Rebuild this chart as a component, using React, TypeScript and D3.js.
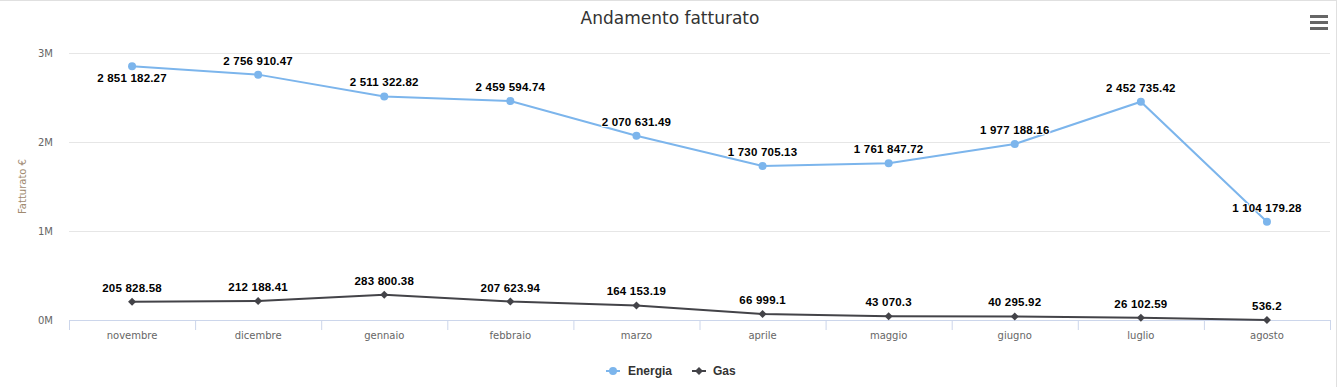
import React from 'react';
import * as d3 from 'd3';

const months = ['novembre', 'dicembre', 'gennaio', 'febbraio', 'marzo', 'aprile', 'maggio', 'giugno', 'luglio', 'agosto'];
const energia = [2851182.27, 2756910.47, 2511322.82, 2459594.74, 2070631.49, 1730705.13, 1761847.72, 1977188.16, 2452735.42, 1104179.28];
const gas = [205828.58, 212188.41, 283800.38, 207623.94, 164153.19, 66999.1, 43070.3, 40295.92, 26102.59, 536.2];
const yTicks = [0, 1000000, 2000000, 3000000];

const W = 1342;
const H = 387;
const margin = { top: 53, right: 12, bottom: 67, left: 69 };

const fmt = (v: number) => {
  const [i, d] = String(v).split('.');
  const int = i.replace(/\B(?=(\d{3})+(?!\d))/g, ' ');
  return d ? `${int}.${d}` : int;
};

const App = () => {
  const x = d3.scaleBand().domain(months).range([margin.left, W - margin.right]);
  const y = d3.scaleLinear().domain([0, 3000000]).range([H - margin.bottom, margin.top]);
  const cx = (m: string) => (x(m) as number) + x.bandwidth() / 2;
  const line = d3.line<number>().x((_, i) => cx(months[i])).y(d => y(d));

  const series = [
    { name: 'Energia', data: energia, color: '#7cb5ec', marker: 'circle' },
    { name: 'Gas', data: gas, color: '#434348', marker: 'diamond' },
  ];

  const marker = (kind: string, px: number, py: number, color: string) =>
    kind === 'circle'
      ? <circle cx={px} cy={py} r={4} fill={color} />
      : <path d={`M${px},${py - 4}L${px + 4},${py}L${px},${py + 4}L${px - 4},${py}Z`} fill={color} />;

  const labelFont = { fontFamily: '"Liberation Sans", Arial, sans-serif', fontWeight: 'bold', fontSize: 11.5, letterSpacing: 0.2 };

  return (
    <svg width={W} height={H} style={{ position: 'absolute', left: 0, top: 0, background: '#fff' }}>
      <line x1={0} x2={1336} y1={0.5} y2={0.5} stroke="#e0e0e0" />
      <line x1={1336.5} x2={1336.5} y1={0} y2={H} stroke="#e0e0e0" />
      <text x={670} y={24} textAnchor="middle" fontFamily='"DejaVu Sans", sans-serif' fontSize={17} fill="#333">
        Andamento fatturato
      </text>
      {/* menu */}
      {[16.5, 22.5, 28.5].map(yy => (
        <line key={yy} x1={1310} x2={1328} y1={yy} y2={yy} stroke="#666" strokeWidth={3} />
      ))}

      {yTicks.slice(1).map(t => (
        <line key={t} x1={margin.left} x2={W - margin.right} y1={y(t) + 0.5} y2={y(t) + 0.5} stroke="#e6e6e6" />
      ))}
      {yTicks.map(t => (
        <text key={t} x={53} y={y(t) + 4} textAnchor="end" fontFamily='"DejaVu Sans", sans-serif' fontSize={10} fill="#666">
          {t / 1000000}M
        </text>
      ))}
      <text transform={`translate(26,${(margin.top + H - margin.bottom) / 2}) rotate(-90)`} textAnchor="middle"
        fontFamily='"DejaVu Sans", sans-serif' fontSize={10} fill="#a08a70">
        Fatturato €
      </text>

      <line x1={margin.left} x2={W - margin.right} y1={y(0) + 0.5} y2={y(0) + 0.5} stroke="#ccd6eb" />
      {months.map(m => (
        <line key={m} x1={(x(m) as number) + 0.5} x2={(x(m) as number) + 0.5} y1={y(0)} y2={y(0) + 10} stroke="#ccd6eb" />
      ))}
      <line x1={W - margin.right + 0.5} x2={W - margin.right + 0.5} y1={y(0)} y2={y(0) + 10} stroke="#ccd6eb" />
      {months.map(m => (
        <text key={m} x={cx(m)} y={339} textAnchor="middle" fontFamily='"DejaVu Sans", sans-serif' fontSize={10} fill="#666">
          {m}
        </text>
      ))}

      {series.map(s => (
        <g key={s.name}>
          <path d={line(s.data) as string} fill="none" stroke={s.color} strokeWidth={2} />
          {s.data.map((v, i) => <g key={i}>{marker(s.marker, cx(months[i]), y(v), s.color)}</g>)}
        </g>
      ))}
      {series.map(s => (
        <g key={s.name + 'l'}>
          {s.data.map((v, i) => {
            const py = y(v);
            const below = py - 20 < margin.top;
            return (
              <text key={i} x={cx(months[i])} y={below ? py + 16 : py - 10} textAnchor="middle" {...labelFont}
                fill="#000" stroke="#fff" strokeWidth={2} strokeLinejoin="round" style={{ paintOrder: 'stroke' }}>
                {fmt(v)}
              </text>
            );
          })}
        </g>
      ))}

      {/* legend */}
      <g>
        <line x1={606} x2={620} y1={371} y2={371} stroke="#7cb5ec" strokeWidth={2} />
        {marker('circle', 613, 371, '#7cb5ec')}
        <text x={628} y={375} fontFamily='"Liberation Sans", Arial, sans-serif' fontWeight="bold" fontSize={12} fill="#333">Energia</text>
        <line x1={692} x2={706} y1={371} y2={371} stroke="#434348" strokeWidth={2} />
        {marker('diamond', 699, 371, '#434348')}
        <text x={713} y={375} fontFamily='"Liberation Sans", Arial, sans-serif' fontWeight="bold" fontSize={12} fill="#333">Gas</text>
      </g>
    </svg>
  );
};

export default App;
